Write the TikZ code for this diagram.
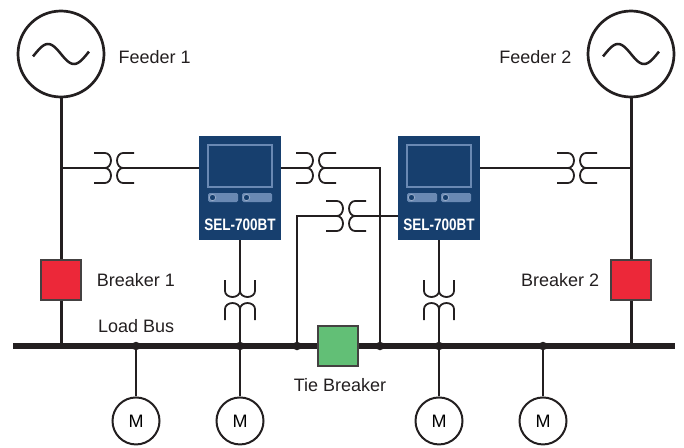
\documentclass[tikz,border=0pt]{standalone}
\usepackage{fontspec}
\setmainfont{Liberation Sans}
\newfontfamily\relayfont[FakeStretch=0.82]{Liberation Sans}
\usepackage{xcolor}
\usepackage{tikz}
\usetikzlibrary{positioning, calc}

\definecolor{relayblue}{HTML}{173F6E}
\definecolor{screenblue}{HTML}{6A89B3}
\definecolor{breakerred}{HTML}{EC2839}
\definecolor{tiegreen}{HTML}{62BF76}
\definecolor{linegray}{HTML}{231F20}

\tikzset{
	ct/.pic={
		\draw[ctline] (-20,15) -- (-9,15) arc[start angle=90, end angle=-90, x radius=6, y radius=7.5]
			arc[start angle=90, end angle=-90, x radius=6, y radius=7.5] -- (-20,-15);
		\draw[ctline] (20,15) -- (9,15) arc[start angle=90, end angle=270, x radius=6, y radius=7.5]
			arc[start angle=90, end angle=270, x radius=6, y radius=7.5] -- (20,-15);
		\coordinate (-w) at (-9,0);
		\coordinate (-e) at (9,0);
	}
}

% face of a relay: screen, two buttons and the type
\newcommand{\relayface}[1]{
	\draw[screen] ([shift={(-32,1)}]#1.center) rectangle ([shift={(32,43)}]#1.center);
	\fill[button] ([shift={(-32,-14)}]#1.center) rectangle ([shift={(-2,-5)}]#1.center);
	\fill[button] ([shift={(2,-14)}]#1.center) rectangle ([shift={(32,-5)}]#1.center);
	\draw[knob] ([shift={(-27.5,-9.5)}]#1.center) circle (3.2);
	\draw[knob] ([shift={(6.5,-9.5)}]#1.center) circle (3.2);
	\node[relaytext] at ([yshift=-37]#1.center) {SEL-700BT};
}

\begin{document}
\begin{tikzpicture}[x=1pt, y=1pt,
	gen/.style={draw=linegray, line width=2.7pt, circle, minimum size=86pt, inner sep=0pt},
	brk/.style={draw=linegray!85, line width=1.3pt, minimum size=40pt, inner sep=0pt},
	motor/.style={draw=linegray, line width=2pt, circle, minimum size=47pt, inner sep=0pt, fill=white},
	relay/.style={fill=relayblue, minimum width=82pt, minimum height=104pt, inner sep=0pt},
	relaytext/.style={text=white, inner sep=0pt, font=\relayfont\bfseries\fontsize{16.5}{18}\selectfont},
	screen/.style={draw=screenblue, line width=2pt},
	button/.style={fill=screenblue, rounded corners=1.5pt},
	knob/.style={draw=screenblue!70!white, fill=relayblue, line width=0.8pt},
	lbl/.style={inner sep=0pt, text=linegray, font=\fontsize{18}{20}\selectfont},
	feed/.style={draw=linegray, line width=3pt},
	wave/.style={draw=linegray, line width=2.5pt},
	busline/.style={draw=linegray, line width=5.5pt},
	wire/.style={draw=linegray, line width=1.3pt},
	ctline/.style={draw=linegray, line width=1.8pt},
	dot/.style={circle, fill=linegray, inner sep=0pt, minimum size=8.5pt},
	node distance=15pt]
	\useasboundingbox (0,0) rectangle (684,-447);

	% Define the sources, breakers and relays
	\node[gen] (gen1) at (61,-54) {};
	\node[gen] (gen2) at (631,-54) {};
	\node[brk, fill=breakerred] (brk1) at (61,-280) {};
	\node[brk, fill=breakerred] (brk2) at (631,-280) {};
	\node[brk, fill=tiegreen] (tie) at (338,-346) {};
	\node[relay] (relay1) at (240,-188) {};
	\node[relay] (relay2) at (439,-188) {};
	\relayface{relay1}
	\relayface{relay2}

	% Generator waves
	\draw[wave, shift={(gen1.center)}] plot[domain=-28:28, samples=50, smooth] (\x, {-10*sin(\x*180/26)});
	\draw[wave, shift={(gen2.center)}] plot[domain=-28:28, samples=50, smooth] (\x, {-10*sin(\x*180/26)});

	% Define the bus and its junctions
	\coordinate (busW) at (13,-346);
	\coordinate (busE) at (675,-346);
	\draw[busline] (busW) -- (tie);
	\draw[busline] (tie) -- (busE);
	\node[dot] (j1) at (136,-346) {};
	\node[dot] (j2) at (240,-346) {};
	\node[dot] (j3) at (297,-346) {};
	\node[dot] (j4) at (380,-346) {};
	\node[dot] (j5) at (439,-346) {};
	\node[dot] (j6) at (543,-346) {};

	% Motors
	\node[motor, below=46pt of j1] (m1) {\fontsize{18}{20}\selectfont M};
	\node[motor, below=46pt of j2] (m2) {\fontsize{18}{20}\selectfont M};
	\node[motor, below=46pt of j5] (m3) {\fontsize{18}{20}\selectfont M};
	\node[motor, below=46pt of j6] (m4) {\fontsize{18}{20}\selectfont M};
	\foreach \j/\m in {j1/m1, j2/m2, j5/m3, j6/m4}
		\draw[feed, line width=2.7pt] (\j) -- (\m);

	% Feeders
	\draw[feed] (gen1) -- (brk1);
	\draw[feed] (brk1) -- (brk1 |- busW);
	\draw[feed] (gen2) -- (brk2);
	\draw[feed] (brk2) -- (brk2 |- busE);

	% Current transformers
	\pic (ct1) at (114,-168) {ct};
	\pic (ct2) at (316,-168) {ct};
	\pic (ct3) at (346,-216) {ct};
	\pic (ct4) at (577,-168) {ct};
	\pic[rotate=-90] (ct5) at (240,-300) {ct};
	\pic[rotate=-90] (ct6) at (439,-300) {ct};

	% Relay wiring
	\draw[wire] (ct1-w) -- (ct1-w -| gen1);
	\draw[wire] (ct1-e) -- (ct1-e -| relay1.west);
	\draw[wire] (relay1.east |- ct2-w) -- (ct2-w);
	\draw[wire] (ct2-e) -- (ct2-e -| j4) -- (j4);
	\draw[wire] (j3) -- (j3 |- ct3-w) -- (ct3-w);
	\draw[wire] (ct3-e) -- (ct3-e -| relay2.west);
	\draw[wire] (relay2.east |- ct4-w) -- (ct4-w);
	\draw[wire] (ct4-e) -- (ct4-e -| gen2);
	\draw[wire] (relay1.south) -- (ct5-w);
	\draw[wire] (ct5-e) -- (j2);
	\draw[wire] (relay2.south) -- (ct6-w);
	\draw[wire] (ct6-e) -- (j5);

	% Labels
	\node[lbl, right=13pt of gen1, yshift=-3pt] {Feeder 1};
	\node[lbl, left=15pt of gen2, yshift=-3pt] {Feeder 2};
	\node[lbl, right=15pt of brk1] {Breaker 1};
	\node[lbl, left=11pt of brk2] {Breaker 2};
	\node[lbl, anchor=west] at (98,-326) {Load Bus};
	\node[lbl, below=12pt of tie, xshift=2pt] {Tie Breaker};
\end{tikzpicture}
\end{document}
